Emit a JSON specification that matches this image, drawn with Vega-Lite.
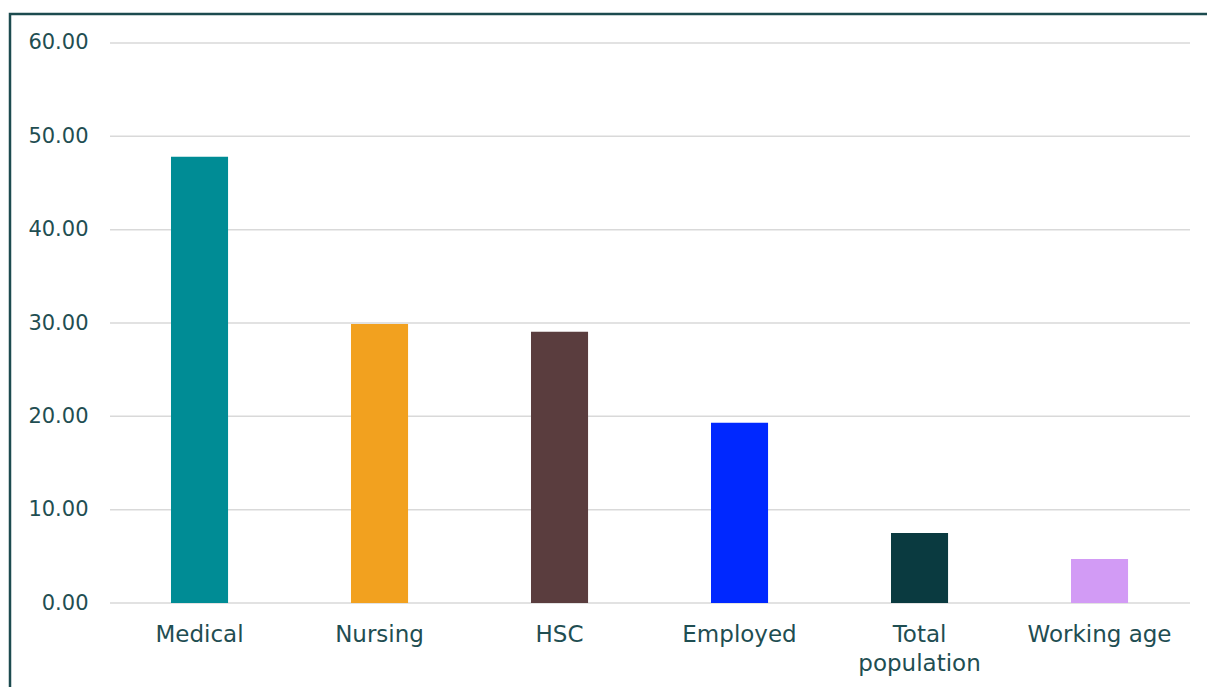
{
  "$schema": "https://vega.github.io/schema/vega-lite/v6.json",
  "autosize": "none",
  "padding": {"left": 10, "top": 14, "right": -3, "bottom": -3},
  "width": 1200,
  "height": 676,
  "background": "white",
  "config": {
    "view": {"stroke": "#1c4b4f", "strokeWidth": 2.5},
    "font": "DejaVu Sans"
  },
  "layer": [
    {
      "data": {
        "values": [
          {"g": 0, "x0": 0, "x1": 6},
          {"g": 10, "x0": 0, "x1": 6},
          {"g": 20, "x0": 0, "x1": 6},
          {"g": 30, "x0": 0, "x1": 6},
          {"g": 40, "x0": 0, "x1": 6},
          {"g": 50, "x0": 0, "x1": 6},
          {"g": 60, "x0": 0, "x1": 6}
        ]
      },
      "mark": {"type": "rule", "color": "#d9d9d9", "strokeWidth": 1.5},
      "encoding": {
        "y": {
          "field": "g",
          "type": "quantitative",
          "scale": {"domain": [-9.32, 63.107], "nice": false, "zero": false},
          "axis": {
            "values": [0, 10, 20, 30, 40, 50, 60],
            "format": ".2f",
            "grid": false,
            "domain": false,
            "ticks": false,
            "offset": -78,
            "labelPadding": 0,
            "labelFontSize": 21,
            "labelColor": "#1f4e52",
            "labelFont": "DejaVu Sans",
            "title": null
          }
        },
        "x": {
          "field": "x0",
          "type": "quantitative",
          "scale": {"domain": [-0.5556, 6.1111], "nice": false, "zero": false},
          "axis": null
        },
        "x2": {"field": "x1"}
      }
    },
    {
      "data": {
        "values": [
          {"category": "Medical", "value": 47.8},
          {"category": "Nursing", "value": 29.9},
          {"category": "HSC", "value": 29.07},
          {"category": "Employed", "value": 19.3},
          {"category": "Total population", "value": 7.5},
          {"category": "Working age", "value": 4.71}
        ]
      },
      "mark": {"type": "bar"},
      "encoding": {
        "x": {
          "field": "category",
          "type": "nominal",
          "sort": null,
          "scale": {"paddingInner": 0.683, "paddingOuter": 0.67483, "align": 0.6627},
          "axis": {
            "orient": "bottom",
            "offset": -87,
            "domain": false,
            "ticks": false,
            "labelAngle": 0,
            "labelPadding": 20,
            "labelFontSize": 23,
            "labelLineHeight": 29,
            "labelColor": "#1f4e52",
            "labelFont": "DejaVu Sans",
            "labelExpr": "datum.label == 'Total population' ? ['Total', 'population'] : datum.label",
            "title": null
          }
        },
        "y": {
          "field": "value",
          "type": "quantitative",
          "scale": {"domain": [-9.32, 63.107], "nice": false, "zero": false},
          "axis": {
            "values": [0, 10, 20, 30, 40, 50, 60],
            "format": ".2f",
            "grid": false,
            "domain": false,
            "ticks": false,
            "offset": -78,
            "labelPadding": 0,
            "labelFontSize": 21,
            "labelColor": "#1f4e52",
            "labelFont": "DejaVu Sans",
            "title": null
          }
        },
        "y2": {"datum": 0},
        "color": {
          "field": "category",
          "type": "nominal",
          "scale": {
            "domain": ["Medical", "Nursing", "HSC", "Employed", "Total population", "Working age"],
            "range": ["#008c95", "#f2a11f", "#5a3d3e", "#0028ff", "#0a3a40", "#d29bf5"]
          },
          "legend": null
        }
      }
    }
  ],
  "resolve": {"scale": {"x": "independent"}}
}
